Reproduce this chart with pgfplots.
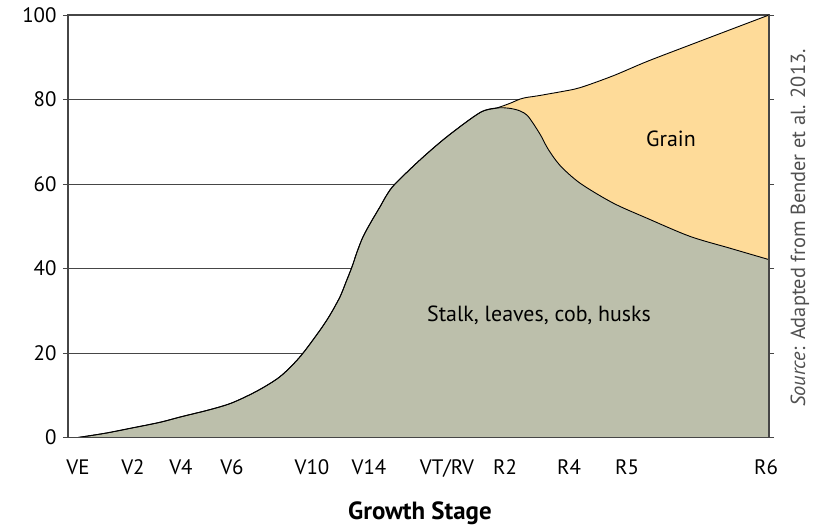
\documentclass[border=0pt]{standalone}
\usepackage{pgfplots}
\usepackage{pgfplotstable}
\usepackage{fontspec}
\setmainfont{PT Sans}
\pgfplotsset{compat=1.18}
\definecolor{stalk}{RGB}{188,191,171}
\definecolor{grain}{RGB}{254,219,153}
\definecolor{axisgray}{RGB}{70,70,70}
\definecolor{txt}{RGB}{35,31,32}

% x in pixel units of the original layout, y in percent
\pgfplotstableread{
x    total  stalk
78   0.0    0.0
105  1.0    1.0
133  2.3    2.3
160  3.6    3.6
181  4.9    4.9
210  6.6    6.6
232  8.2    8.2
257  11.0   11.0
280  14.4   14.4
300  19.1   19.1
320  25.4   25.4
330  29.0   29.0
340  33.3   33.3
346  36.8   36.8
352  40.4   40.4
357  43.9   43.9
363  47.5   47.5
371  51.0   51.0
380  54.6   54.6
387  57.5   57.5
395  60.0   60.0
420  65.7   65.7
447  71.2   71.2
480  76.9   76.9
497  78.0   78.0
510  79.1   77.9
520  80.1   77.3
527  80.5   76.3
533  80.7   74.4
541  81.0   71.4
548  81.3   68.3
560  81.8   64.4
580  82.8   60.2
613  85.6   55.5
647  89.0   51.9
690  92.9   47.6
730  96.5   44.8
769  100.0  42.1
}\growth

\begin{document}
\begin{tikzpicture}[font=\color{txt}]
\useasboundingbox (-68bp,-87.5bp) rectangle (752bp,437.5bp);
\begin{axis}[
  at={(0,0)}, anchor=south west,
  scale only axis, width=701bp, height=422.5bp,
  xmin=68, xmax=769, ymin=0, ymax=100,
  axis lines=box,
  axis line style={axisgray, line width=1.1pt},
  xtick={78,133,181,232,312,369,447,505,569,627,766},
  xticklabels={VE,V2,V4,V6,V10,V14,VT/RV,R2,R4,R5,R6},
  x tick style={draw=none},
  xticklabel style={font=\fontsize{21}{24}\selectfont, yshift=-14bp},
  ytick={0,20,40,60,80,100},
  ytick pos=both,
  y tick style={axisgray, line width=0.8pt},
  tick align=outside, major tick length=5bp,
  yticklabel style={font=\fontsize{21}{24}\selectfont, xshift=-3bp},
  /pgf/number format/assume math mode=true,
  ymajorgrids,
  grid style={axisgray, line width=0.8pt},
  xlabel={\bfseries Growth Stage},
  xlabel style={font=\fontsize{25}{28}\selectfont\bfseries, at={(rel axis cs:0.502,0)}, anchor=center, yshift=-76bp},
  clip=false,
]
\addplot[fill=grain, draw=none, smooth] table[x=x, y=total] {\growth} \closedcycle;
\addplot[fill=stalk, draw=none, smooth] table[x=x, y=stalk] {\growth} \closedcycle;
\addplot[black, line width=0.9pt, smooth] table[x=x, y=total] {\growth};
\addplot[black, line width=0.9pt, smooth] table[x=x, y=stalk] {\growth};
\draw[axisgray, line width=1.1pt] (axis cs:68,0) -- (axis cs:769,0);
\draw[axisgray, line width=1.1pt] (axis cs:769,0) -- (axis cs:769,100);
\node[font=\fontsize{22}{24}\selectfont] at (axis cs:539,28.8) {Stalk, leaves, cob, husks};
\node[font=\fontsize{22}{24}\selectfont] at (axis cs:671,70.7) {Grain};
\end{axis}
\node[rotate=90, font=\fontsize{20.5}{24}\selectfont, text={rgb,255:red,80;green,80;blue,80}] at (732bp,209.5bp) {\textit{Source}: Adapted from Bender et al. 2013.};
\end{tikzpicture}
\end{document}
